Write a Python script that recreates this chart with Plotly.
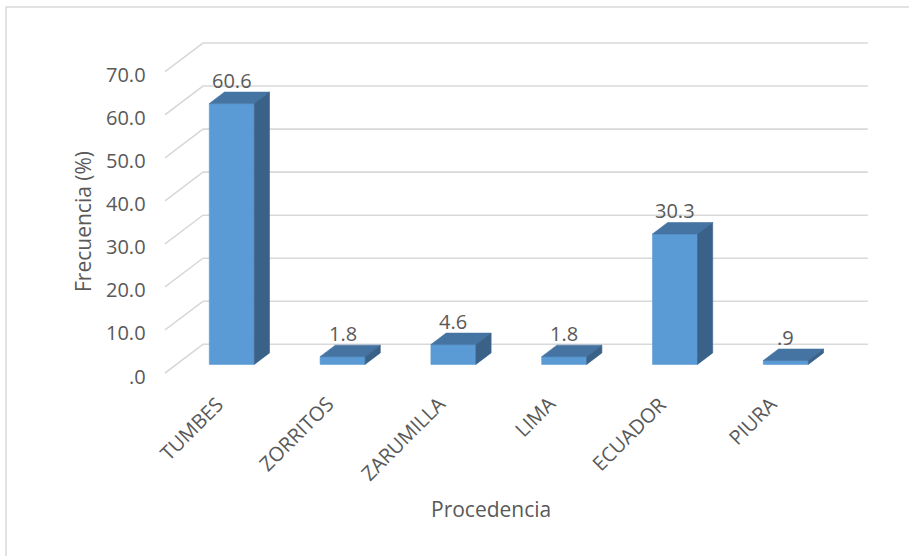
import plotly.graph_objects as go

# ---------------- data ----------------
categories = ["TUMBES", "ZORRITOS", "ZARUMILLA", "LIMA", "ECUADOR", "PIURA"]
values = [60.6, 1.8, 4.6, 1.8, 30.3, 0.9]
y_ticks = [0, 10, 20, 30, 40, 50, 60, 70]
y_tick_labels = [".0", "10.0", "20.0", "30.0", "40.0", "50.0", "60.0", "70.0"]
x_title = "Procedencia"
y_title = "Frecuencia (%)"

# ---------------- styling / geometry ----------------
W, H = 909, 556
PX_X = 110.8           # pixels per category
PX_Y = 4.304           # pixels per value unit
FRONT_LEFT_PX = 165.0  # pixel x of front plane left edge
ZERO_PX = 373.0        # pixel y of front plane zero
DX = 38.0 / PX_X       # depth offset (category units)
DY = 28.7 / PX_Y       # depth offset (value units)
F0, F1 = 0.30, 0.70    # bar depth from/to (fraction of wall depth)
HALF_W = 22.5 / PX_X   # half bar width

xmin = -0.5 - FRONT_LEFT_PX / PX_X
xmax = xmin + W / PX_X
ymax = ZERO_PX / PX_Y
ymin = ymax - H / PX_Y

FONT = "Open Sans, Liberation Sans, Arial, sans-serif"
TXT = "#595959"
GRID = "#d9d9d9"
C_FRONT = "#5b9bd5"
C_TOP = "#4574a3"
C_SIDE = "#3a6289"

n = len(categories)
x_left, x_right = -0.5, n - 0.5

fig = go.Figure()

# back-wall gridlines with side-wall diagonals
for v in y_ticks:
    fig.add_trace(go.Scatter(
        x=[x_left, x_left + DX, x_right + DX],
        y=[v, v + DY, v + DY],
        mode="lines", line=dict(color=GRID, width=1.6),
        hoverinfo="skip", showlegend=False, cliponaxis=False))

def poly(xs, ys, color):
    fig.add_trace(go.Scatter(
        x=xs + [xs[0]], y=ys + [ys[0]], mode="lines", fill="toself",
        fillcolor=color, line=dict(color=color, width=0.6),
        hoverinfo="skip", showlegend=False, cliponaxis=False))

ddx = (F1 - F0) * DX
ddy = (F1 - F0) * DY

def fmt(v):
    s = f"{v:.1f}"
    return s[1:] if s.startswith("0.") else s

annotations = []
for i, (cat, v) in enumerate(zip(categories, values)):
    cx = i + F0 * DX
    y0 = F0 * DY
    l, r = cx - HALF_W, cx + HALF_W
    # front face
    poly([l, r, r, l], [y0, y0, y0 + v, y0 + v], C_FRONT)
    # top face
    poly([l, r, r + ddx, l + ddx], [y0 + v, y0 + v, y0 + v + ddy, y0 + v + ddy], C_TOP)
    # side face
    poly([r, r + ddx, r + ddx, r], [y0, y0 + ddy, y0 + v + ddy, y0 + v], C_SIDE)
    # data label
    annotations.append(dict(
        x=cx, y=v + F1 * DY, xref="x", yref="y", text=fmt(v),
        showarrow=False, xanchor="center", yanchor="middle", yshift=12,
        font=dict(family=FONT, size=20, color=TXT)))
    # category label
    annotations.append(dict(
        x=cx, y=0, xref="x", yref="y", text=cat, textangle=-45,
        showarrow=False, xanchor="right", yanchor="top",
        xshift=0, yshift=-15,
        font=dict(family=FONT, size=20, color=TXT)))

# y tick labels on front plane
for v, lab in zip(y_ticks, y_tick_labels):
    annotations.append(dict(
        x=x_left, y=v, xref="x", yref="y", text=lab, showarrow=False,
        xanchor="right", yanchor="middle", xshift=-17, yshift=-3,
        font=dict(family=FONT, size=20, color=TXT)))

# axis titles
annotations.append(dict(
    x=83 / W, y=1 - 222 / H, xref="paper", yref="paper", text=y_title,
    textangle=-90, showarrow=False, xanchor="center", yanchor="middle",
    font=dict(family=FONT, size=21, color=TXT)))
annotations.append(dict(
    x=491 / W, y=1 - 509 / H, xref="paper", yref="paper", text=x_title,
    showarrow=False, xanchor="center", yanchor="middle",
    font=dict(family=FONT, size=21, color=TXT)))

fig.update_layout(
    width=W, height=H,
    margin=dict(l=0, r=0, t=0, b=0),
    paper_bgcolor="white", plot_bgcolor="white",
    xaxis=dict(range=[xmin, xmax], visible=False, fixedrange=True),
    yaxis=dict(range=[ymin, ymax], visible=False, fixedrange=True),
    annotations=annotations,
    shapes=[dict(type="rect", xref="paper", yref="paper",
                 x0=6 / W, x1=1.05, y0=-0.05, y1=1 - 7 / H,
                 line=dict(color=GRID, width=1.5), fillcolor="rgba(0,0,0,0)",
                 layer="below")],
    showlegend=False,
)

fig.write_html("out.html")
